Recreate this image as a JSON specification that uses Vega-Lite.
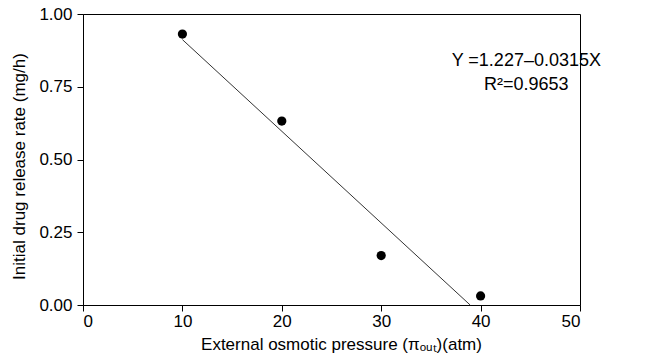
{
  "$schema": "https://vega.github.io/schema/vega-lite/v6.json",
  "autosize": {"type": "none"},
  "width": 497,
  "height": 291,
  "padding": {"left": 83, "top": 14, "right": 70, "bottom": 53},
  "background": "white",
  "config": {
    "view": {"stroke": "black", "strokeWidth": 1},
    "font": "Liberation Sans",
    "axis": {
      "domainColor": "black",
      "tickColor": "black",
      "labelColor": "black",
      "titleColor": "black",
      "labelFont": "Liberation Sans",
      "titleFont": "Liberation Sans",
      "labelFontSize": 17,
      "titleFontSize": 17,
      "titleFontWeight": "normal",
      "tickSize": 6,
      "grid": false
    }
  },
  "datasets": {
    "points": [
      {"x": 10, "y": 0.931},
      {"x": 20, "y": 0.632},
      {"x": 30, "y": 0.170},
      {"x": 40, "y": 0.031}
    ],
    "fit": [
      {"x": 10, "y": 0.912},
      {"x": 38.95, "y": 0.0}
    ],
    "notes": [
      {"x": 44.6, "y": 0.837, "label": "Y =1.227–0.0315X"},
      {"x": 44.6, "y": 0.755, "label": "R²=0.9653"}
    ]
  },
  "layer": [
    {
      "data": {"name": "fit"},
      "mark": {"type": "line", "color": "#333333", "strokeWidth": 1},
      "encoding": {
        "x": {"field": "x", "type": "quantitative", "scale": {"domain": [0, 50]},
          "axis": {"values": [0, 10, 20, 30, 40, 50], "title": "External osmotic pressure (πₒᵤₜ)(atm)", "labelPadding": 2, "titlePadding": 7, "titleX": 258, "titleAnchor": "middle"}},
        "y": {"field": "y", "type": "quantitative", "scale": {"domain": [0, 1]},
          "axis": {"values": [0, 0.25, 0.5, 0.75, 1], "format": ".2f", "title": "Initial drug release rate (mg/h)", "labelPadding": 5, "titlePadding": 10, "titleY": 152}}
      }
    },
    {
      "data": {"name": "points"},
      "mark": {"type": "point", "filled": true, "color": "black", "size": 85, "opacity": 1},
      "encoding": {
        "x": {"field": "x", "type": "quantitative"},
        "y": {"field": "y", "type": "quantitative"}
      }
    },
    {
      "data": {"name": "notes"},
      "mark": {"type": "text", "fontSize": 18, "color": "black", "align": "center", "baseline": "middle", "font": "Liberation Sans"},
      "encoding": {
        "x": {"field": "x", "type": "quantitative"},
        "y": {"field": "y", "type": "quantitative"},
        "text": {"field": "label"}
      }
    }
  ]
}
